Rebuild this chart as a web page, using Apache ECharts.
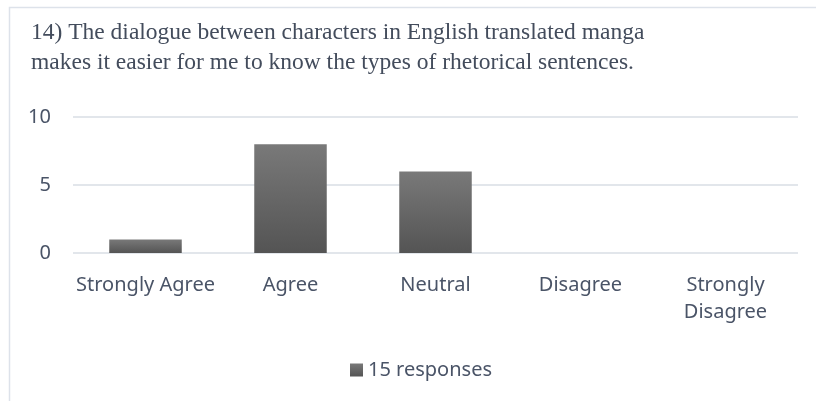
<!DOCTYPE html>
<html>
<head>
<meta charset="utf-8">
<script src="https://cdn.jsdelivr.net/npm/echarts@6/dist/echarts.min.js"></script>
<style>
  html, body { margin: 0; padding: 0; background: #fff; }
  #chart { width: 816px; height: 401px; }
</style>
</head>
<body>
<div id="chart"></div>
<script>
// 回答数の棒グラフ（設問14）
const categories = ['Strongly Agree', 'Agree', 'Neutral', 'Disagree', 'Strongly Disagree'];
const responses = [1, 8, 6, 0, 0];
const yTicks = [0, 5, 10];
const seriesName = '15 responses';
const titleText = '14) The dialogue between characters in English translated manga\nmakes it easier for me to know the types of rhetorical sentences.';

const textColor = '#4a5467';
const labelFont = '"Noto Sans", "Open Sans", sans-serif';

const chart = echarts.init(document.getElementById('chart'));

const barColor = {
  type: 'linear', x: 0, y: 0, x2: 0, y2: 1,
  colorStops: [
    { offset: 0, color: '#797979' },
    { offset: 1, color: '#545454' }
  ]
};

const option = {
  animation: false,
  title: {
    text: titleText,
    left: 31,
    top: 18,
    padding: 0,
    textStyle: {
      fontFamily: '"Liberation Serif", "Times New Roman", serif',
      fontWeight: 'normal',
      fontSize: 23.5,
      lineHeight: 30,
      color: '#434c5c'
    }
  },
  graphic: [
    {
      type: 'polyline',
      shape: { points: [[9.5, 401], [9.5, 7.5], [816, 7.5]] },
      style: { stroke: '#dde2ea', lineWidth: 1.5, fill: null }
    }
  ],
  legend: {
    data: [seriesName],
    left: 345,
    top: 355,
    itemWidth: 13,
    itemHeight: 13,
    itemGap: 6,
    icon: 'rect',
    textStyle: { fontFamily: labelFont, fontSize: 20, color: textColor }
  },
  grid: { left: 73, right: 18, top: 117, bottom: 148 },
  xAxis: {
    type: 'category',
    data: categories,
    axisLine: { show: false },
    axisTick: { show: false },
    axisLabel: {
      margin: 19,
      fontFamily: labelFont,
      fontSize: 20,
      lineHeight: 27,
      color: textColor,
      interval: 0,
      formatter: v => v === 'Strongly Disagree' ? 'Strongly\nDisagree' : v
    }
  },
  yAxis: {
    type: 'value',
    min: yTicks[0],
    max: yTicks[yTicks.length - 1],
    interval: 5,
    axisLine: { show: false },
    axisTick: { show: false },
    axisLabel: {
      margin: 22,
      fontFamily: labelFont,
      fontSize: 20,
      color: textColor
    },
    splitLine: { lineStyle: { color: '#d9dee5', width: 1.5 } }
  },
  series: [
    {
      name: seriesName,
      type: 'bar',
      data: responses,
      barWidth: '50%',
      itemStyle: { color: barColor }
    }
  ]
};

chart.setOption(option);
</script>
</body>
</html>
